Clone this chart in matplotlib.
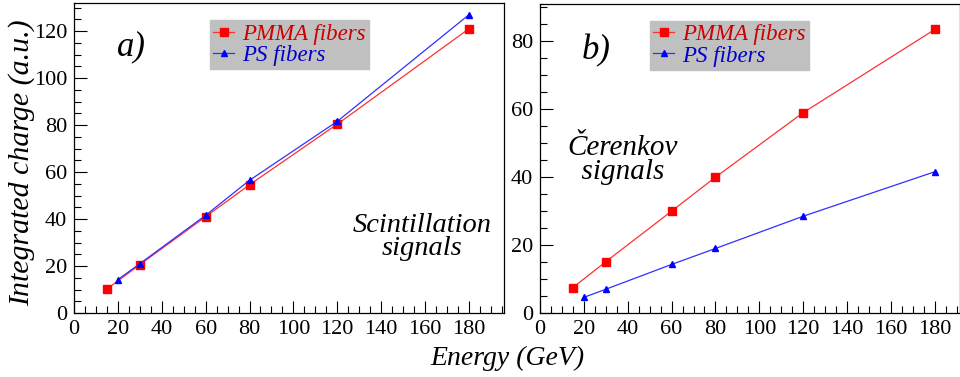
import matplotlib.pyplot as plt
from matplotlib.ticker import MultipleLocator

plt.rcParams["font.family"] = ["Liberation Serif", "DejaVu Serif"]

# a) scintillation signals
e_pmma_a = [15, 30, 60, 80, 120, 180]
q_pmma_a = [10.2, 20.6, 41.0, 54.6, 80.4, 121.0]
e_ps_a = [20, 30, 60, 80, 120, 180]
q_ps_a = [14.2, 21.0, 41.6, 56.5, 81.6, 127.0]

# b) cerenkov signals
e_pmma_b = [15, 30, 60, 80, 120, 180]
q_pmma_b = [7.5, 15.1, 30.0, 40.0, 59.0, 83.5]
e_ps_b = [20, 30, 60, 80, 120, 180]
q_ps_b = [4.6, 7.0, 14.3, 19.0, 28.5, 41.6]

xticks = [0, 20, 40, 60, 80, 100, 120, 140, 160, 180]

fig = plt.figure(figsize=(9.6, 3.77), dpi=100)
axa = fig.add_axes([74/960, 1-313/377, 430/960, 310/377])
axb = fig.add_axes([540/960, 1-313/377, 420/960, 309/377])


def panel(ax, ep, qp, es, qs, xmax, ymax, leg_x0):
    ax.plot(ep, qp, color="#ff3030", lw=0.9, marker="s", ms=5.5,
            mfc="#ff0000", mec="#ff0000", label="PMMA fibers")
    ax.plot(es, qs, color="#3030ff", lw=0.9, marker="^", ms=4.5,
            mfc="#0000ff", mec="#0000ff", label="PS fibers")
    ax.set_xlim(0, xmax)
    ax.set_ylim(0, ymax)
    ax.set_xticks(xticks)
    ax.xaxis.set_minor_locator(MultipleLocator(5))
    ax.yaxis.set_major_locator(MultipleLocator(20))
    ax.yaxis.set_minor_locator(MultipleLocator(5))
    ax.tick_params(which="both", direction="in", top=False, right=False,
                   labelsize=16, width=0.8, pad=5)
    ax.tick_params(which="major", length=9)
    ax.tick_params(which="minor", length=5)
    for s in ax.spines.values():
        s.set_linewidth(0.9)
    leg = ax.legend(loc="upper left", bbox_to_anchor=(leg_x0, 0.945),
                    fontsize=16.5, frameon=True, fancybox=False,
                    facecolor="#c0c0c0", edgecolor="#c0c0c0", framealpha=1,
                    handlelength=0.9, handletextpad=0.35, borderpad=0.15,
                    labelspacing=0.0, borderaxespad=0)
    for t, c in zip(leg.get_texts(), ["#cc0000", "#0000cc"]):
        t.set_color(c)
        t.set_style("italic")
    return leg


panel(axa, e_pmma_a, q_pmma_a, e_ps_a, q_ps_a, 196, 132, 0.316)
panel(axb, e_pmma_b, q_pmma_b, e_ps_b, q_ps_b, 191.5, 91, 0.262)

axa.text(0.10, 0.86, "a)", transform=axa.transAxes, fontsize=25,
         style="italic", ha="left", va="center")
axb.text(0.10, 0.85, "b)", transform=axb.transAxes, fontsize=25,
         style="italic", ha="left", va="center")
axa.text(0.81, 0.245, "Scintillation\nsignals", transform=axa.transAxes,
         fontsize=20.5, style="italic", ha="center", va="center",
         linespacing=0.9)
axb.text(0.065, 0.495, "Čerenkov\n  signals", transform=axb.transAxes,
         fontsize=21, style="italic", ha="left", va="center",
         linespacing=0.9)

fig.text(22/960, 1-163/377, "Integrated charge (a.u.)", rotation=90,
         fontsize=21.5, style="italic", ha="center", va="center")
fig.text(584/960, 1-358/377, "Energy (GeV)", fontsize=20, style="italic",
         ha="right", va="center")

fig.savefig("out.png", dpi=100)
